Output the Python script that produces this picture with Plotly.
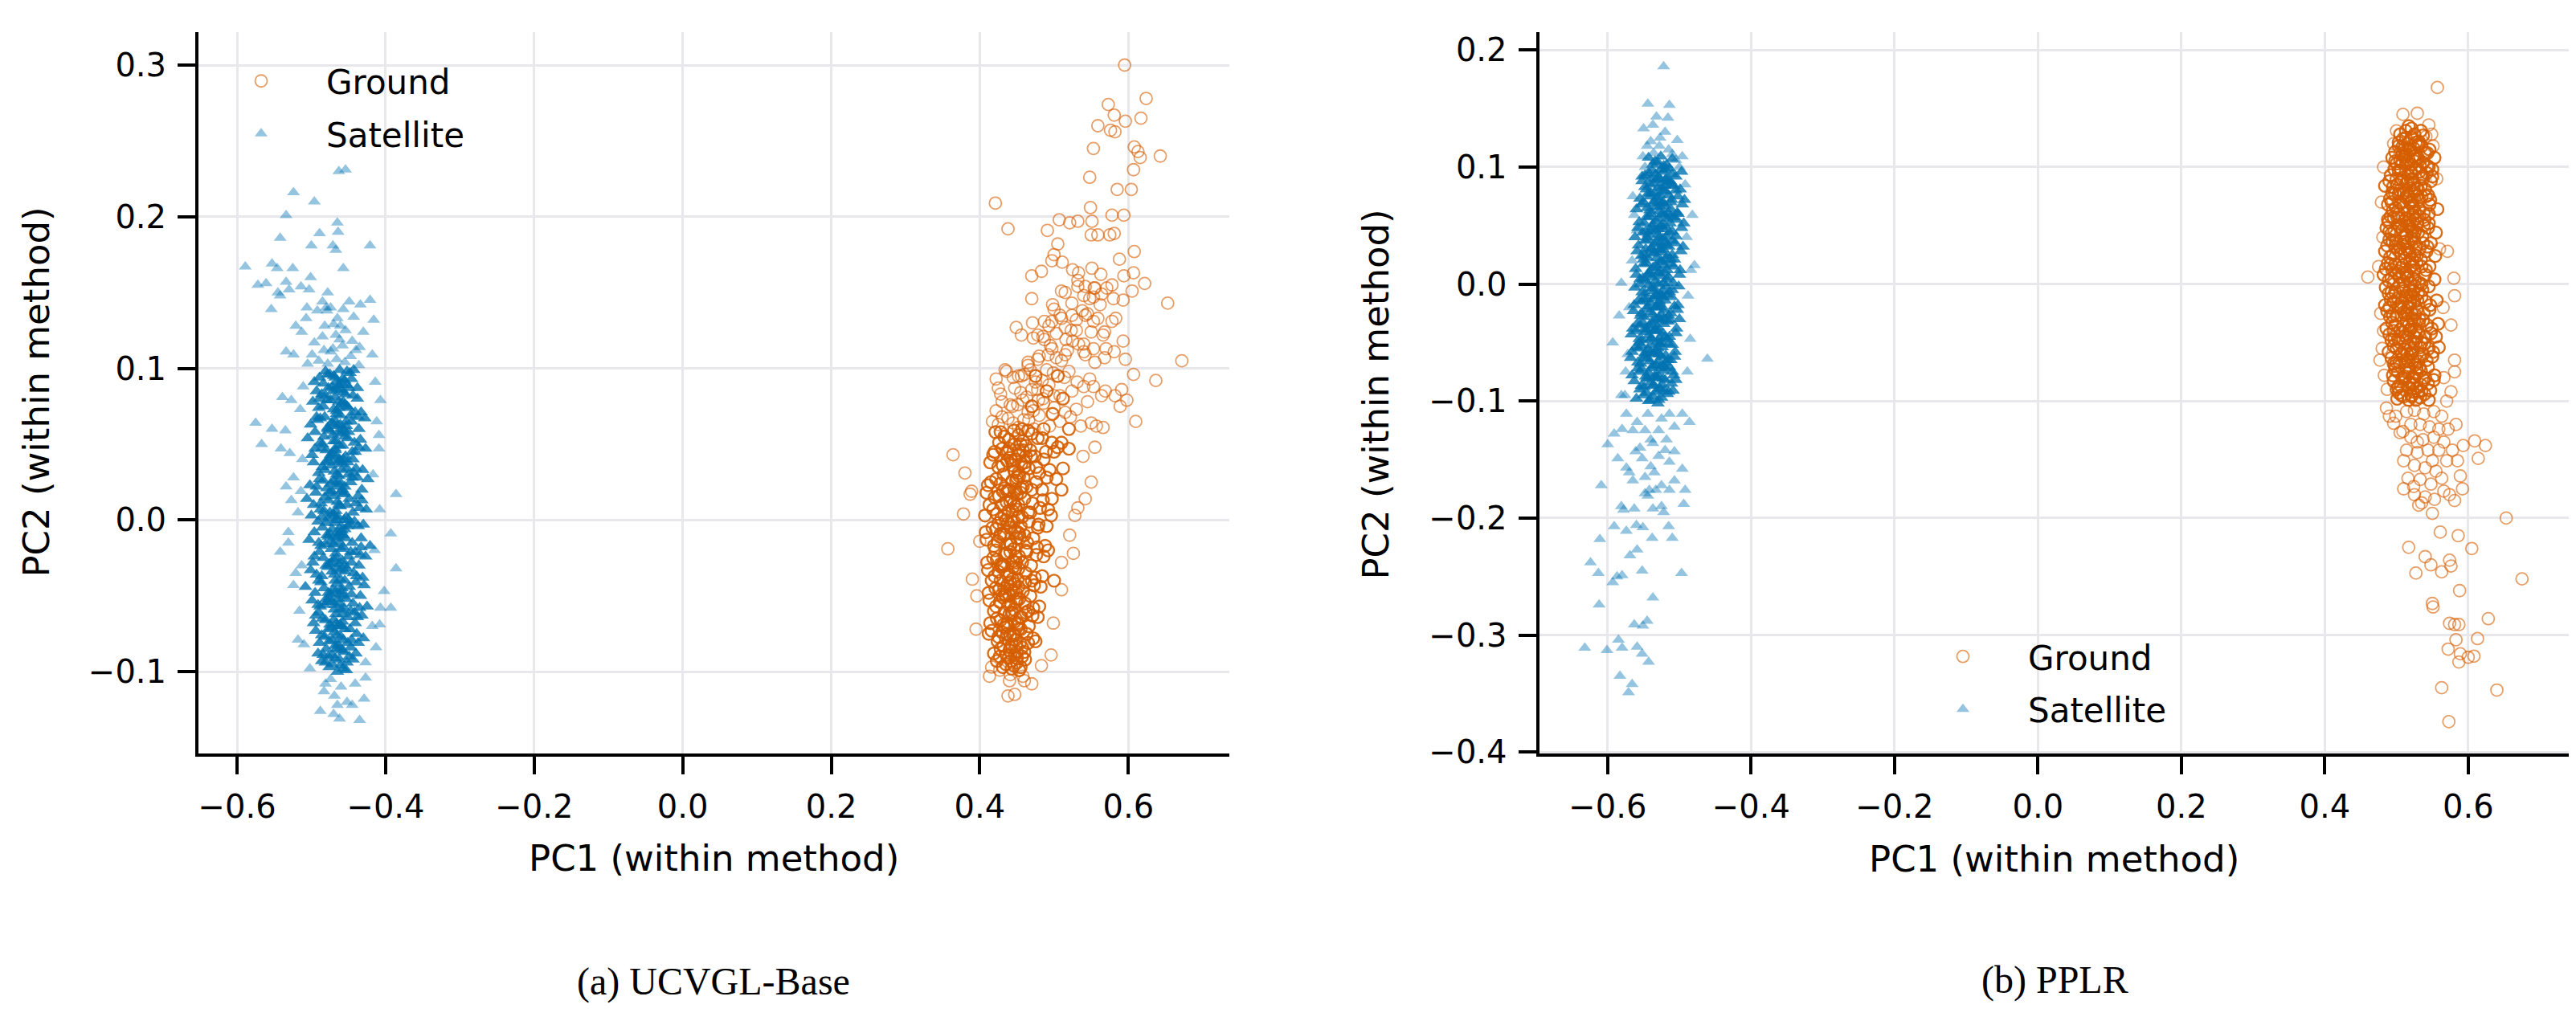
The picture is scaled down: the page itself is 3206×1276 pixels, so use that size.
import plotly.graph_objects as go

# ---------------- tick labels ----------------
x_ticks = [-0.6, -0.4, -0.2, 0.0, 0.2, 0.4, 0.6]
x_ticktext = ["\u22120.6", "\u22120.4", "\u22120.2", "0.0", "0.2", "0.4", "0.6"]
ya_ticks = [-0.1, 0.0, 0.1, 0.2, 0.3]
ya_ticktext = ["\u22120.1", "0.0", "0.1", "0.2", "0.3"]
yb_ticks = [-0.4, -0.3, -0.2, -0.1, 0.0, 0.1, 0.2]
yb_ticktext = ["\u22120.4", "\u22120.3", "\u22120.2", "\u22120.1", "0.0", "0.1", "0.2"]

series_names = ["Ground", "Satellite"]
panel_captions = ["(a) UCVGL-Base", "(b) PPLR"]
x_title = "PC1 (within method)"
y_title = "PC2 (within method)"

# ---------------- (a) UCVGL-Base : Satellite (PC1, PC2), dense core ----------------
sat_a_core = [
(-.481,.098),(-.470,.095),(-.462,.099),(-.455,.092),(-.448,.097),(-.489,.094),(-.466,.091),(-.458,.093),(-.475,.096),(-.443,.099),(-.496,.091),(-.452,.098),(-.468,.094),
(-.486,.083),(-.477,.087),(-.468,.081),(-.460,.086),(-.452,.089),(-.444,.082),(-.493,.085),(-.472,.088),(-.457,.084),(-.438,.080),(-.465,.086),(-.481,.082),(-.449,.087),
(-.498,.078),(-.484,.075),(-.474,.079),(-.466,.072),(-.459,.077),(-.450,.074),(-.441,.071),(-.470,.073),(-.455,.076),(-.479,.079),(-.433,.071),(-.463,.078),(-.490,.074),
(-.501,.063),(-.488,.067),(-.478,.061),(-.469,.066),(-.461,.069),(-.453,.062),(-.446,.065),(-.437,.068),(-.473,.064),(-.458,.060),(-.492,.066),(-.465,.062),(-.428,.067),
(-.495,.058),(-.483,.055),(-.476,.059),(-.467,.052),(-.460,.057),(-.451,.054),(-.442,.051),(-.434,.053),(-.471,.056),(-.456,.059),(-.488,.051),(-.464,.058),(-.505,.054),
(-.499,.043),(-.486,.047),(-.475,.041),(-.468,.046),(-.462,.049),(-.454,.042),(-.445,.045),(-.436,.048),(-.472,.044),(-.457,.040),(-.480,.046),(-.466,.042),(-.427,.047),
(-.497,.038),(-.485,.035),(-.477,.039),(-.469,.032),(-.459,.037),(-.452,.034),(-.443,.031),(-.431,.033),(-.473,.036),(-.461,.039),(-.490,.031),(-.464,.038),(-.440,.034),
(-.502,.023),(-.489,.027),(-.479,.021),(-.470,.026),(-.463,.029),(-.455,.022),(-.447,.025),(-.438,.028),(-.474,.024),(-.458,.020),(-.484,.026),(-.466,.022),(-.424,.027),
(-.494,.018),(-.482,.015),(-.473,.019),(-.465,.012),(-.457,.017),(-.449,.014),(-.440,.011),(-.432,.013),(-.469,.016),(-.460,.019),(-.487,.011),(-.476,.018),(-.506,.014),
(-.500,.003),(-.488,.007),(-.478,.001),(-.467,.006),(-.461,.009),(-.453,.002),(-.444,.005),(-.435,.008),(-.471,.004),(-.456,.000),(-.483,.006),(-.464,.002),(-.426,.007),
(-.496,-.008),(-.485,-.005),(-.475,-.009),(-.468,-.002),(-.459,-.007),(-.451,-.004),(-.442,-.001),(-.430,-.003),(-.472,-.006),(-.462,-.009),(-.491,-.001),(-.465,-.008),(-.437,-.004),
(-.503,-.013),(-.487,-.017),(-.477,-.011),(-.470,-.016),(-.460,-.019),(-.454,-.012),(-.445,-.015),(-.433,-.018),(-.474,-.014),(-.457,-.010),(-.481,-.016),(-.466,-.012),(-.421,-.017),
(-.498,-.028),(-.484,-.025),(-.476,-.029),(-.467,-.022),(-.458,-.027),(-.450,-.024),(-.441,-.021),(-.434,-.023),(-.470,-.026),(-.463,-.029),(-.489,-.021),(-.473,-.028),(-.427,-.024),
(-.501,-.033),(-.486,-.037),(-.478,-.031),(-.469,-.036),(-.461,-.039),(-.452,-.032),(-.443,-.035),(-.431,-.038),(-.472,-.034),(-.456,-.030),(-.493,-.036),(-.465,-.032),(-.439,-.037),
(-.495,-.048),(-.483,-.045),(-.474,-.049),(-.466,-.042),(-.459,-.047),(-.449,-.044),(-.440,-.041),(-.429,-.043),(-.471,-.046),(-.462,-.049),(-.487,-.041),(-.477,-.048),(-.508,-.044),
(-.499,-.053),(-.488,-.057),(-.476,-.051),(-.468,-.056),(-.460,-.059),(-.453,-.052),(-.444,-.055),(-.435,-.058),(-.473,-.054),(-.457,-.050),(-.482,-.056),(-.464,-.052),(-.425,-.057),
(-.497,-.068),(-.485,-.065),(-.475,-.069),(-.467,-.062),(-.458,-.067),(-.451,-.064),(-.442,-.061),(-.432,-.063),(-.470,-.066),(-.461,-.069),(-.490,-.061),(-.466,-.068),(-.438,-.064),
(-.494,-.073),(-.482,-.077),(-.473,-.071),(-.465,-.076),(-.457,-.079),(-.448,-.072),(-.439,-.075),(-.430,-.078),(-.469,-.074),(-.460,-.070),(-.486,-.076),(-.477,-.072),
(-.491,-.088),(-.480,-.085),(-.472,-.089),(-.464,-.082),(-.456,-.087),(-.447,-.084),(-.437,-.081),(-.468,-.083),(-.459,-.086),(-.484,-.089),(-.451,-.081),
(-.486,-.093),(-.476,-.097),(-.468,-.091),(-.461,-.096),(-.453,-.099),(-.444,-.092),(-.472,-.095),(-.457,-.098),(-.481,-.094),(-.449,-.090),
(-.463,.089),(-.457,.078),(-.466,.070),(-.461,.063),(-.455,.055),(-.468,.047),(-.462,.040),(-.459,.033),(-.465,.025),(-.456,.018),(-.463,.010),(-.469,.003),
(-.460,-.004),(-.464,-.011),(-.457,-.018),(-.466,-.025),(-.461,-.033),(-.455,-.040),(-.467,-.047),(-.462,-.055),(-.458,-.062),(-.464,-.070),(-.460,-.077),
(-.466,-.085),(-.462,-.092),(-.478,.060),(-.450,.030),(-.479,-.010),(-.447,-.060),(-.476,-.080),(-.452,.075),(-.481,.038),(-.446,-.028),(-.480,-.052),(-.450,.000),
(-.478,.096),(-.459,.090),(-.446,.093),(-.471,.085),(-.454,.083),(-.489,.080),(-.463,.074),(-.447,.069),(-.482,.068),(-.470,.063),(-.450,.058),(-.485,.050),
(-.458,.049),(-.441,.045),(-.474,.043),(-.451,.038),(-.482,.033),(-.466,.030),(-.445,.028),(-.493,.022),(-.460,.024),(-.477,.013),(-.452,.010),(-.437,.016),
(-.486,.002),(-.467,.000),(-.448,-.003),(-.480,-.002),(-.455,-.006),(-.473,-.019),(-.447,-.021),(-.490,-.015),(-.462,-.015),(-.480,-.030),(-.455,-.034),(-.436,-.030),
(-.490,-.040),(-.468,-.040),(-.446,-.049),(-.478,-.054),(-.456,-.058),(-.491,-.056),(-.469,-.059),(-.441,-.068),(-.481,-.066),(-.455,-.072),(-.472,-.079),(-.446,-.079),
(-.489,-.081),(-.462,-.085),(-.477,-.090),(-.452,-.094),(-.465,-.100),(-.440,-.088),(-.494,-.063),(-.496,-.024),(-.497,.010),(-.495,.047),(-.493,.068),(-.436,.060),
(-.432,.020),(-.433,-.012),(-.434,-.050),(-.438,.087),(-.475,.005),(-.459,-.045),(-.470,.052),(-.453,.065),(-.484,.090),(-.444,.040),
]
# sparser points around the core
sat_a_spread = [
(-.463,.230),(-.454,.231),(-.524,.216),(-.496,.210),(-.534,.201),(-.465,.196),(-.464,.190),(-.489,.189),(-.542,.186),(-.500,.181),(-.471,.181),(-.467,.178),
(-.421,.181),(-.589,.167),(-.553,.169),(-.546,.166),(-.525,.166),(-.457,.166),(-.572,.155),(-.561,.156),(-.534,.157),(-.501,.160),(-.542,.148),(-.545,.150),
(-.530,.152),(-.514,.154),(-.503,.152),(-.478,.150),(-.554,.139),(-.506,.140),(-.485,.144),(-.480,.140),(-.474,.140),(-.449,.144),(-.434,.142),(-.421,.145),
(-.507,.133),(-.492,.138),(-.479,.138),(-.465,.133),(-.457,.139),(-.443,.134),(-.416,.132),(-.521,.128),(-.513,.124),(-.482,.128),(-.470,.129),(-.461,.128),
(-.454,.125),(-.430,.124),(-.496,.117),(-.485,.121),(-.467,.122),(-.445,.118),(-.534,.111),(-.524,.109),(-.418,.109),(-.499,.109),(-.474,.111),(-.435,.114),
(-.490,.105),(-.478,.103),(-.466,.106),(-.455,.104),(-.447,.108),(-.436,.102),(-.471,.113),(-.458,.115),(-.483,.112),(-.505,.103),(-.440,.112),(-.462,.119),
(-.414,.091),(-.407,.079),(-.539,.081),(-.527,.079),(-.575,.064),(-.553,.060),(-.535,.059),(-.567,.050),(-.541,.047),(-.529,.044),(-.409,.056),(-.409,.047),
(-.524,.028),(-.534,.022),(-.514,.019),(-.527,.013),(-.386,.017),(-.408,.007),(-.393,-.009),(-.531,-.008),(-.542,-.021),(-.531,-.015),(-.386,-.032),(-.521,-.035),
(-.524,-.043),(-.402,-.047),(-.393,-.058),(-.407,-.058),(-.408,-.069),(-.518,-.079),(-.510,-.082),(-.413,-.084),(-.502,-.098),(-.483,-.113),(-.488,-.126),(-.470,-.128),
(-.462,-.131),(-.435,-.132),(-.429,-.118),(-.452,-.120),(-.445,-.122),(-.465,-.122),(-.469,-.116),(-.474,-.105),(-.427,-.104),(-.441,-.108),(-.481,-.108),(-.460,-.110),
(-.427,-.094),(-.515,.073),(-.512,.040),(-.518,.005),(-.513,-.030),(-.516,-.060),(-.511,.088),(-.417,.030),(-.415,-.020),(-.418,-.070),(-.412,.065),
]

# ---------------- (a) UCVGL-Base : Ground ----------------
gnd_a_core = [
(.421,.058),(.433,.055),(.446,.059),(.458,.052),(.470,.057),(.484,.054),(.497,.051),(.439,.053),(.452,.056),(.465,.059),(.510,.051),(.428,.058),(.478,.054),
(.418,.043),(.430,.047),(.441,.041),(.453,.046),(.462,.049),(.474,.042),(.489,.045),(.505,.048),(.436,.044),(.448,.040),(.458,.046),(.469,.042),(.520,.047),
(.414,.038),(.425,.035),(.437,.039),(.447,.032),(.456,.037),(.466,.034),(.480,.031),(.494,.033),(.431,.036),(.443,.039),(.452,.031),(.461,.038),(.512,.034),
(.411,.023),(.422,.027),(.434,.021),(.444,.026),(.453,.029),(.463,.022),(.476,.025),(.490,.028),(.428,.024),(.439,.020),(.449,.026),(.458,.022),(.503,.027),
(.409,.018),(.420,.015),(.431,.019),(.441,.012),(.450,.017),(.460,.014),(.471,.011),(.485,.013),(.426,.016),(.437,.019),(.446,.011),(.455,.018),(.497,.014),
(.407,.003),(.418,.007),(.429,.001),(.439,.006),(.448,.009),(.457,.002),(.468,.005),(.481,.008),(.423,.004),(.435,.000),(.444,.006),(.452,.002),(.492,.007),
(.408,-.008),(.417,-.005),(.428,-.009),(.438,-.002),(.447,-.007),(.455,-.004),(.466,-.001),(.479,-.003),(.422,-.006),(.433,-.009),(.443,-.001),(.451,-.008),(.490,-.004),
(.409,-.013),(.419,-.017),(.427,-.011),(.437,-.016),(.446,-.019),(.454,-.012),(.464,-.015),(.477,-.018),(.424,-.014),(.432,-.010),(.442,-.016),(.450,-.012),(.488,-.017),
(.410,-.028),(.418,-.025),(.428,-.029),(.436,-.022),(.445,-.027),(.453,-.024),(.463,-.021),(.476,-.023),(.423,-.026),(.431,-.029),(.441,-.021),(.449,-.028),(.486,-.024),
(.411,-.033),(.420,-.037),(.429,-.031),(.437,-.036),(.444,-.039),(.452,-.032),(.462,-.035),(.474,-.038),(.425,-.034),(.433,-.030),(.440,-.036),(.448,-.032),(.484,-.037),
(.412,-.048),(.421,-.045),(.430,-.049),(.438,-.042),(.445,-.047),(.452,-.044),(.461,-.041),(.473,-.043),(.426,-.046),(.434,-.049),(.441,-.041),(.449,-.048),(.482,-.044),
(.413,-.053),(.422,-.057),(.431,-.051),(.439,-.056),(.446,-.059),(.453,-.052),(.461,-.055),(.472,-.058),(.427,-.054),(.435,-.050),(.442,-.056),(.450,-.052),(.480,-.057),
(.414,-.068),(.423,-.065),(.432,-.069),(.440,-.062),(.447,-.067),(.454,-.064),(.462,-.061),(.471,-.063),(.428,-.066),(.436,-.069),(.443,-.061),(.451,-.068),(.478,-.064),
(.416,-.073),(.425,-.077),(.434,-.071),(.441,-.076),(.448,-.079),(.455,-.072),(.463,-.075),(.472,-.078),(.430,-.074),(.438,-.070),(.445,-.076),(.452,-.072),
(.419,-.088),(.428,-.085),(.436,-.089),(.443,-.082),(.450,-.087),(.457,-.084),(.465,-.081),(.432,-.083),(.440,-.086),(.447,-.089),(.454,-.081),
(.423,-.093),(.431,-.097),(.439,-.091),(.446,-.096),(.453,-.099),(.461,-.092),(.435,-.095),(.443,-.098),(.450,-.094),(.457,-.090),
(.447,.050),(.452,.043),(.444,.036),(.450,.028),(.455,.021),(.443,.014),(.449,.007),(.446,-.001),(.453,-.009),(.441,-.016),(.448,-.024),(.445,-.031),(.451,-.039),
(.442,-.046),(.449,-.054),(.444,-.061),(.452,-.069),(.447,-.076),(.441,-.084),(.450,-.091),(.430,.010),(.462,-.020),(.433,-.045),(.460,.035),(.437,-.075),(.465,-.060),
(.426,.051),(.440,.047),(.455,.050),(.468,.046),(.486,.040),(.432,.030),(.459,.028),(.470,.020),(.415,.025),(.436,.012),(.452,.010),(.465,.005),
(.413,.010),(.425,-.002),(.441,-.005),(.460,-.010),(.472,-.012),(.421,-.020),(.434,-.022),(.457,-.028),(.469,-.030),(.416,-.040),(.428,-.040),(.447,-.042),
(.458,-.047),(.468,-.050),(.419,-.060),(.433,-.061),(.456,-.064),(.466,-.070),(.424,-.080),(.435,-.078),(.449,-.083),(.460,-.087),(.427,-.090),(.442,-.093),
(.438,.045),(.462,.042),(.476,.035),(.484,.020),(.478,-.005),(.470,-.040),(.420,.045),(.412,-.075),(.475,-.080),(.455,-.097),(.433,.003),(.440,-.050),
(.447,.020),(.430,-.030),(.457,.060),(.470,.075),(.486,.060),(.498,.070),(.512,.080),(.490,.085),(.475,.095),(.505,.095),(.520,.060),(.500,.045),
(.510,.020),(.496,.003),(.492,-.020),(.500,-.040),
]
gnd_a_spread = [
(.425,.063),(.438,.067),(.452,.061),(.466,.066),(.480,.069),(.494,.062),(.508,.065),(.522,.068),(.445,.064),(.473,.060),(.459,.066),(.536,.062),
(.430,.078),(.444,.075),(.458,.079),(.472,.072),(.486,.077),(.500,.074),(.515,.071),(.530,.073),(.451,.076),(.479,.079),(.465,.071),(.545,.078),
(.428,.083),(.447,.087),(.463,.081),(.478,.086),(.493,.089),(.508,.082),(.524,.085),(.540,.088),(.455,.084),(.485,.080),(.470,.086),(.500,.082),
(.436,.098),(.452,.095),(.468,.099),(.484,.092),(.499,.097),(.514,.094),(.531,.091),(.548,.093),(.460,.096),(.490,.099),(.475,.091),(.520,.098),
(.465,.102),(.480,.108),(.495,.115),(.510,.105),(.525,.118),(.540,.111),(.555,.104),(.570,.113),(.487,.119),(.503,.107),(.518,.112),(.533,.116),
(.478,.122),(.493,.128),(.508,.135),(.523,.125),(.538,.138),(.553,.131),(.568,.124),(.583,.133),(.500,.139),(.515,.127),(.530,.132),(.545,.136),
(.498,.142),(.515,.150),(.532,.158),(.548,.146),(.563,.162),(.578,.155),(.525,.165),(.540,.148),(.555,.153),
(.595,.300),(.624,.278),(.573,.274),(.581,.267),(.596,.263),(.617,.265),(.559,.260),(.576,.257),(.582,.256),(.553,.245),(.608,.246),(.613,.243),
(.616,.239),(.643,.240),(.607,.231),(.548,.226),(.585,.218),(.604,.218),(.421,.209),(.549,.206),(.578,.201),(.594,.201),(.438,.192),(.491,.191),
(.507,.198),(.521,.196),(.532,.197),(.551,.197),(.550,.188),(.559,.188),(.575,.188),(.581,.189),(.505,.182),(.500,.175),(.497,.171),(.511,.170),
(.588,.172),(.608,.177),(.470,.161),(.483,.164),(.533,.163),(.551,.166),(.594,.161),(.607,.163),(.622,.156),(.470,.146),(.510,.151),(.532,.154),
(.542,.154),(.554,.153),(.564,.149),(.571,.153),(.605,.151),(.653,.143),(.524,.143),(.553,.147),(.580,.146),(.593,.145),(.562,.142),(.449,.127),
(.456,.122),(.471,.130),(.487,.131),(.497,.131),(.510,.133),(.524,.135),(.542,.135),(.559,.133),(.578,.131),(.530,.125),(.550,.124),(.566,.122),
(.472,.120),(.485,.121),(.503,.123),(.516,.119),(.540,.116),(.593,.118),(.581,.111),(.553,.113),(.542,.109),(.497,.113),(.492,.109),(.465,.104),
(.478,.106),(.515,.109),(.568,.107),(.672,.105),(.596,.106),(.637,.092),(.607,.096),(.610,.065),(.589,.075),(.598,.079),(.591,.086),(.582,.082),
(.564,.082),(.569,.085),(.553,.088),(.566,.061),(.557,.062),(.550,.064),(.555,.048),(.539,.042),(.550,.025),(.542,.014),(.532,.008),(.528,.003),
(.521,-.010),(.526,-.022),(.510,-.028),(.510,-.046),(.499,-.068),(.496,-.089),(.364,.043),(.380,.031),(.389,.019),(.387,.017),(.378,.004),(.357,-.019),
(.390,-.039),(.395,-.072),(.400,-.014),(.396,-.050),(.413,-.103),(.416,-.097),(.438,-.116),(.447,-.115),(.440,-.106),(.460,-.106),(.470,-.108),(.458,-.103),
(.441,-.102),(.427,-.099),(.483,-.096),(.422,.093),(.425,.087),(.434,.099),(.445,.094),(.456,.095),(.417,.065),(.430,.068),(.422,.072),(.441,.076),
]

# ---------------- (b) PPLR : Satellite ----------------
sat_b_core = [
(-.543,.108),(-.534,.105),(-.526,.109),(-.518,.102),(-.510,.107),(-.530,.104),(-.522,.101),
(-.548,.093),(-.538,.097),(-.530,.091),(-.522,.096),(-.514,.099),(-.505,.092),(-.543,.095),(-.526,.098),(-.533,.094),(-.518,.090),(-.497,.096),(-.552,.092),
(-.552,.088),(-.541,.085),(-.532,.089),(-.525,.082),(-.517,.087),(-.508,.084),(-.546,.081),(-.529,.083),(-.536,.086),(-.520,.089),(-.499,.081),(-.513,.088),
(-.555,.073),(-.544,.077),(-.535,.071),(-.527,.076),(-.519,.079),(-.511,.072),(-.502,.075),(-.540,.078),(-.531,.074),(-.523,.070),(-.515,.076),(-.493,.072),
(-.553,.068),(-.545,.065),(-.536,.069),(-.528,.062),(-.520,.067),(-.512,.064),(-.503,.061),(-.541,.063),(-.532,.066),(-.524,.069),(-.516,.061),(-.496,.068),(-.560,.064),
(-.556,.053),(-.546,.057),(-.537,.051),(-.529,.056),(-.521,.059),(-.513,.052),(-.504,.055),(-.542,.058),(-.533,.054),(-.525,.050),(-.517,.056),(-.494,.052),(-.508,.057),
(-.558,.048),(-.547,.045),(-.538,.049),(-.530,.042),(-.522,.047),(-.514,.044),(-.505,.041),(-.543,.043),(-.534,.046),(-.526,.049),(-.518,.041),(-.497,.048),(-.551,.044),
(-.557,.033),(-.548,.037),(-.539,.031),(-.531,.036),(-.523,.039),(-.515,.032),(-.506,.035),(-.544,.038),(-.535,.034),(-.527,.030),(-.519,.036),(-.495,.032),(-.510,.037),
(-.559,.028),(-.549,.025),(-.540,.029),(-.532,.022),(-.524,.027),(-.516,.024),(-.507,.021),(-.545,.023),(-.536,.026),(-.528,.029),(-.520,.021),(-.498,.028),(-.553,.024),
(-.561,.013),(-.550,.017),(-.541,.011),(-.533,.016),(-.525,.019),(-.517,.012),(-.508,.015),(-.546,.018),(-.537,.014),(-.529,.010),(-.521,.016),(-.499,.012),(-.512,.017),
(-.560,.008),(-.551,.005),(-.542,.009),(-.534,.002),(-.526,.007),(-.518,.004),(-.509,.001),(-.547,.003),(-.538,.006),(-.530,.009),(-.522,.001),(-.500,.008),(-.555,.004),
(-.562,-.003),(-.552,-.007),(-.543,-.001),(-.535,-.006),(-.527,-.009),(-.519,-.002),(-.510,-.005),(-.548,-.008),(-.539,-.004),(-.531,-.010),(-.523,-.006),(-.501,-.002),(-.514,-.007),
(-.563,-.018),(-.553,-.015),(-.544,-.019),(-.536,-.012),(-.528,-.017),(-.520,-.014),(-.511,-.011),(-.549,-.013),(-.540,-.016),(-.532,-.019),(-.524,-.011),(-.502,-.018),(-.557,-.014),
(-.564,-.023),(-.554,-.027),(-.545,-.021),(-.537,-.026),(-.529,-.029),(-.521,-.022),(-.512,-.025),(-.550,-.028),(-.541,-.024),(-.533,-.020),(-.525,-.026),(-.503,-.022),(-.515,-.027),
(-.565,-.038),(-.555,-.035),(-.546,-.039),(-.538,-.032),(-.530,-.037),(-.522,-.034),(-.513,-.031),(-.551,-.033),(-.542,-.036),(-.534,-.039),(-.526,-.031),(-.504,-.038),(-.559,-.034),
(-.567,-.043),(-.556,-.047),(-.547,-.041),(-.539,-.046),(-.531,-.049),(-.523,-.042),(-.514,-.045),(-.552,-.048),(-.543,-.044),(-.535,-.040),(-.527,-.046),(-.505,-.042),(-.517,-.047),
(-.566,-.058),(-.557,-.055),(-.548,-.059),(-.540,-.052),(-.532,-.057),(-.524,-.054),(-.515,-.051),(-.553,-.053),(-.544,-.056),(-.536,-.059),(-.528,-.051),(-.506,-.058),(-.561,-.054),
(-.568,-.063),(-.558,-.067),(-.549,-.061),(-.541,-.066),(-.533,-.069),(-.525,-.062),(-.516,-.065),(-.554,-.068),(-.545,-.064),(-.537,-.060),(-.529,-.066),(-.507,-.062),(-.519,-.067),
(-.566,-.078),(-.556,-.075),(-.547,-.079),(-.539,-.072),(-.531,-.077),(-.523,-.074),(-.514,-.071),(-.552,-.073),(-.543,-.076),(-.535,-.079),(-.527,-.071),(-.508,-.078),
(-.563,-.083),(-.553,-.087),(-.544,-.081),(-.536,-.086),(-.528,-.089),(-.520,-.082),(-.511,-.085),(-.549,-.088),(-.540,-.084),(-.532,-.080),(-.524,-.086),(-.505,-.082),
(-.560,-.098),(-.550,-.095),(-.541,-.099),(-.533,-.092),(-.525,-.097),(-.517,-.094),(-.509,-.091),(-.546,-.093),(-.537,-.096),(-.529,-.099),(-.521,-.091),
(-.527,.090),(-.522,.080),(-.529,.070),(-.524,.060),(-.520,.050),(-.528,.040),(-.523,.030),(-.526,.020),(-.521,.010),(-.529,.000),(-.524,-.010),(-.527,-.020),
(-.522,-.030),(-.530,-.040),(-.525,-.050),(-.528,-.060),(-.523,-.070),(-.531,-.080),(-.526,-.090),(-.540,.045),(-.510,.025),(-.538,-.035),(-.512,-.065),(-.541,.075),(-.511,.085),
(-.537,.102),(-.520,.098),(-.540,.090),(-.510,.094),(-.548,.083),(-.520,.084),(-.534,.078),(-.505,.080),(-.550,.070),(-.527,.066),(-.540,.060),(-.512,.058),
(-.549,.052),(-.530,.047),(-.510,.045),(-.545,.040),(-.518,.033),(-.535,.027),(-.550,.021),(-.512,.021),(-.530,.014),(-.544,.008),(-.515,.006),(-.555,.000),
(-.536,-.003),(-.517,-.009),(-.546,-.013),(-.528,-.015),(-.507,-.019),(-.553,-.025),(-.533,-.030),(-.516,-.032),(-.548,-.038),(-.520,-.045),(-.540,-.047),(-.556,-.050),
(-.510,-.052),(-.530,-.055),(-.549,-.063),(-.519,-.061),(-.537,-.070),(-.558,-.072),(-.510,-.075),(-.545,-.080),(-.523,-.081),(-.555,-.090),(-.537,-.087),(-.515,-.092),
(-.543,-.100),(-.530,-.102),(-.560,-.040),(-.562,.040),(-.500,-.030),(-.502,.060),(-.526,.035),(-.534,-.010),(-.519,-.072),(-.540,-.058),(-.512,.070),(-.547,.030),
]
sat_b_spread = [
(-.522,.186),(-.544,.154),(-.514,.153),(-.516,.142),(-.532,.143),(-.550,.133),(-.503,.123),(-.496,.109),(-.537,.136),(-.520,.130),(-.527,.125),(-.540,.122),
(-.551,.109),(-.510,.111),(-.536,.112),(-.515,.115),(-.545,.118),(-.505,.106),(-.528,.118),(-.548,.100),(-.500,.100),
(-.482,.059),(-.479,.016),(-.484,.012),(-.563,.059),(-.559,.046),(-.581,.001),(-.584,-.027),(-.593,-.050),(-.461,-.064),(-.485,-.047),(-.486,-.118),
(-.566,.020),(-.570,-.020),(-.572,-.060),(-.575,-.075),(-.565,.075),(-.490,.040),(-.488,-.010),(-.489,-.075),(-.492,.085),
(-.496,-.158),(-.492,-.176),(-.494,-.188),(-.581,-.095),(-.576,-.095),(-.591,-.128),(-.600,-.137),(-.586,-.149),(-.609,-.172),(-.574,-.157),(-.581,-.190),
(-.563,-.192),(-.542,-.176),(-.525,-.190),(-.591,-.207),(-.611,-.218),(-.574,-.211),(-.560,-.206),(-.551,-.208),(-.538,-.217),(-.515,-.207),(-.510,-.217),
(-.624,-.238),(-.613,-.247),(-.569,-.232),(-.559,-.227),(-.552,-.245),(-.593,-.255),(-.587,-.250),(-.580,-.249),(-.497,-.247),(-.537,-.268),(-.612,-.274),
(-.563,-.291),(-.551,-.292),(-.545,-.288),(-.632,-.311),(-.601,-.313),(-.585,-.304),(-.580,-.311),(-.559,-.310),(-.552,-.316),(-.543,-.323),(-.583,-.335),
(-.566,-.342),(-.571,-.349),
(-.574,-.111),(-.580,-.124),(-.565,-.125),(-.555,-.140),(-.540,-.133),(-.529,-.125),(-.518,-.133),(-.507,-.122),(-.514,-.152),(-.529,-.147),(-.540,-.156),
(-.552,-.149),(-.570,-.161),(-.565,-.168),(-.548,-.165),(-.535,-.161),(-.525,-.172),(-.514,-.176),(-.507,-.168),(-.548,-.179),(-.537,-.192),(-.544,-.181),
(-.522,-.195),(-.578,-.193),(-.561,-.143),(-.525,-.115),(-.544,-.111),(-.559,-.118),(-.514,-.111),(-.496,-.111),(-.537,-.136),(-.507,-.143),(-.548,-.125),
(-.520,-.142),(-.533,-.176),
]

# ---------------- (b) PPLR : Ground ----------------
gnd_b_core = [
(.505,.128),(.513,.125),(.521,.133),(.531,.122),(.537,.127),(.509,.124),(.527,.121),(.534,.131),(.517,.135),
(.498,.113),(.508,.117),(.514,.111),(.524,.116),(.530,.119),(.540,.112),(.546,.115),(.503,.118),(.519,.114),(.527,.110),(.511,.116),(.543,.112),
(.494,.108),(.505,.105),(.511,.109),(.521,.102),(.527,.107),(.537,.104),(.543,.101),(.500,.103),(.517,.106),(.523,.109),(.533,.101),(.553,.108),(.508,.104),
(.492,.093),(.503,.097),(.510,.091),(.520,.096),(.526,.099),(.536,.092),(.542,.095),(.497,.098),(.516,.094),(.522,.090),(.532,.096),(.550,.092),(.506,.097),
(.490,.088),(.501,.085),(.508,.089),(.518,.082),(.524,.087),(.534,.084),(.540,.081),(.495,.083),(.514,.086),(.520,.089),(.530,.081),(.548,.088),(.484,.084),
(.491,.073),(.498,.077),(.509,.071),(.515,.076),(.525,.079),(.531,.072),(.541,.075),(.494,.078),(.513,.074),(.519,.070),(.529,.076),(.547,.072),(.503,.077),
(.488,.068),(.499,.065),(.506,.069),(.516,.062),(.522,.067),(.532,.064),(.538,.061),(.495,.063),(.510,.066),(.520,.069),(.526,.061),(.546,.068),(.557,.064),
(.489,.053),(.496,.057),(.507,.051),(.513,.056),(.523,.059),(.529,.052),(.539,.055),(.492,.058),(.511,.054),(.517,.050),(.527,.056),(.545,.052),(.501,.057),
(.486,.048),(.497,.045),(.504,.049),(.514,.042),(.520,.047),(.530,.044),(.536,.041),(.493,.043),(.508,.046),(.518,.049),(.524,.041),(.544,.048),(.555,.044),
(.487,.033),(.494,.037),(.505,.031),(.511,.036),(.521,.039),(.527,.032),(.537,.035),(.490,.038),(.509,.034),(.515,.030),(.525,.036),(.543,.032),(.499,.037),
(.484,.028),(.495,.025),(.502,.029),(.512,.022),(.518,.027),(.528,.024),(.534,.021),(.491,.023),(.506,.026),(.516,.029),(.522,.021),(.542,.028),(.554,.024),
(.485,.013),(.492,.017),(.503,.011),(.509,.016),(.519,.019),(.525,.012),(.535,.015),(.488,.018),(.507,.014),(.513,.010),(.523,.016),(.541,.012),(.498,.017),
(.482,.008),(.493,.005),(.500,.009),(.510,.002),(.516,.007),(.526,.004),(.532,.001),(.489,.003),(.504,.006),(.514,.009),(.520,.001),(.540,.008),(.553,.004),
(.485,-.003),(.493,-.007),(.504,-.001),(.510,-.006),(.520,-.009),(.526,-.002),(.536,-.005),(.489,-.008),(.508,-.004),(.514,-.010),(.524,-.006),(.545,-.002),(.498,-.007),
(.484,-.018),(.496,-.015),(.503,-.019),(.513,-.012),(.519,-.017),(.529,-.014),(.535,-.011),(.492,-.013),(.507,-.016),(.517,-.019),(.523,-.011),(.547,-.018),(.556,-.014),
(.487,-.023),(.495,-.027),(.506,-.021),(.512,-.026),(.522,-.029),(.528,-.022),(.538,-.025),(.491,-.028),(.510,-.024),(.516,-.020),(.526,-.026),(.546,-.022),(.500,-.027),
(.486,-.038),(.498,-.035),(.505,-.039),(.515,-.032),(.521,-.037),(.531,-.034),(.537,-.031),(.494,-.033),(.509,-.036),(.519,-.039),(.525,-.031),(.549,-.038),(.558,-.034),
(.490,-.043),(.497,-.047),(.508,-.041),(.514,-.046),(.524,-.049),(.530,-.042),(.540,-.045),(.493,-.048),(.512,-.044),(.518,-.040),(.528,-.046),(.548,-.042),(.502,-.047),
(.489,-.058),(.500,-.055),(.507,-.059),(.517,-.052),(.523,-.057),(.533,-.054),(.539,-.051),(.496,-.053),(.511,-.056),(.521,-.059),(.527,-.051),(.551,-.058),(.559,-.054),
(.493,-.063),(.500,-.067),(.510,-.061),(.516,-.066),(.526,-.069),(.532,-.062),(.542,-.065),(.496,-.068),(.514,-.064),(.520,-.060),(.530,-.066),(.550,-.062),(.504,-.067),
(.495,-.078),(.502,-.075),(.512,-.079),(.518,-.072),(.528,-.077),(.534,-.074),(.544,-.071),(.498,-.073),(.516,-.076),(.522,-.079),(.532,-.071),(.553,-.078),
(.496,-.083),(.506,-.087),(.512,-.081),(.522,-.086),(.528,-.089),(.538,-.082),(.544,-.085),(.502,-.088),(.518,-.084),(.524,-.080),(.534,-.086),(.552,-.082),
(.501,-.098),(.507,-.095),(.517,-.099),(.523,-.092),(.533,-.097),(.539,-.094),(.547,-.091),(.503,-.093),(.521,-.096),(.527,-.099),(.535,-.091),
(.521,.125),(.518,.115),(.525,.105),(.520,.095),(.523,.085),(.517,.075),(.524,.065),(.519,.055),(.522,.045),(.516,.035),(.525,.025),(.520,.015),(.523,.005),
(.518,-.005),(.524,-.015),(.521,-.025),(.517,-.035),(.525,-.045),(.520,-.055),(.523,-.065),(.518,-.075),(.524,-.085),(.521,-.095),(.505,.080),(.538,.050),
(.506,-.020),(.537,-.060),(.508,.110),(.535,.000),
(.513,.131),(.525,.128),(.503,.121),(.535,.118),(.516,.120),(.498,.105),(.513,.102),(.530,.108),(.545,.100),(.500,.090),(.516,.088),(.537,.090),
(.510,.078),(.528,.082),(.544,.076),(.493,.070),(.522,.072),(.503,.060),(.532,.058),(.514,.050),(.545,.060),(.490,.045),(.526,.045),(.498,.032),
(.532,.030),(.512,.027),(.548,.035),(.494,.012),(.528,.018),(.515,.005),(.546,.015),(.496,.000),(.530,-.008),(.502,-.012),(.541,-.015),(.515,-.025),
(.532,-.030),(.496,-.040),(.527,-.040),(.543,-.035),(.505,-.050),(.535,-.050),(.515,-.060),(.545,-.055),(.498,-.070),(.528,-.072),(.508,-.080),(.540,-.080),
(.517,-.088),(.530,-.092),(.510,-.096),(.545,-.099),(.490,-.020),(.488,.055),(.550,.098),(.555,-.045),(.532,.120),(.500,-.090),(.512,.040),(.535,.075),
]
gnd_b_spread = [
(.557,.168),(.509,.145),(.529,.146),(.545,.136),(.549,.128),(.505,.112),(.496,.120),(.551,.118),(.500,.131),(.541,.126),
(.460,.006),(.475,.015),(.571,.028),(.580,.005),(.581,-.010),(.576,-.035),(.482,-.040),(.477,-.065),(.581,-.065),(.581,-.075),(.576,-.092),
(.483,-.078),(.487,-.090),(.480,-.055),(.478,-.025),(.481,.040),(.479,.070),(.556,.090),(.560,.030),(.565,-.020),(.566,-.080),(.570,-.100),(.482,.100),
(.486,-.106),(.490,-.113),(.496,-.119),(.505,-.127),(.583,-.120),(.593,-.138),(.609,-.134),(.624,-.138),(.614,-.149),(.510,-.175),(.524,-.173),
(.592,-.175),(.581,-.185),(.535,-.187),(.550,-.196),(.653,-.200),(.561,-.212),(.586,-.215),(.605,-.226),(.517,-.225),(.540,-.233),(.548,-.240),
(.563,-.246),(.574,-.236),(.576,-.241),(.527,-.247),(.675,-.252),(.588,-.262),(.551,-.276),(.550,-.273),(.628,-.286),(.574,-.290),(.587,-.291),
(.581,-.291),(.583,-.304),(.613,-.303),(.572,-.312),(.589,-.316),(.587,-.323),(.608,-.318),(.600,-.319),(.563,-.345),(.640,-.347),(.573,-.374),
(.514,-.109),(.525,-.108),(.538,-.111),(.552,-.109),(.563,-.113),(.533,-.120),(.546,-.122),(.559,-.124),(.520,-.131),(.537,-.133),(.552,-.131),
(.566,-.135),(.514,-.142),(.529,-.144),(.544,-.142),(.559,-.142),(.570,-.151),(.510,-.151),(.525,-.155),(.540,-.157),(.555,-.160),(.516,-.166),
(.533,-.167),(.548,-.171),(.563,-.166),(.574,-.180),(.540,-.182),(.525,-.180),(.553,-.184),(.531,-.189),(.566,-.177),(.585,-.151),(.589,-.164),
(.578,-.142),(.520,-.120),(.509,-.126),(.572,-.124),(.499,-.113),(.529,-.135),(.550,-.151),
]

# ---------------- styling ----------------
GROUND_COLOR = "#D55E00"
SAT_COLOR = "#0173B2"
GRID_COLOR = "#E7E7EC"
W, H = 3206, 1276


def xs(pts):
    return [p[0] for p in pts]


def ys(pts):
    return [p[1] for p in pts]


# dense cores are drawn with stronger opacity so the many overlapping markers read as a solid mass
ground_marker = dict(symbol="circle-open", size=15, color=GROUND_COLOR, opacity=0.6,
                     line=dict(width=1.8, color=GROUND_COLOR))
ground_core_marker = dict(symbol="circle-open", size=15, color=GROUND_COLOR, opacity=0.9,
                          line=dict(width=2.4, color=GROUND_COLOR))
sat_marker = dict(symbol="triangle-up", size=14, color=SAT_COLOR, opacity=0.42,
                  line=dict(width=0))
sat_core_marker = dict(symbol="triangle-up", size=15, color=SAT_COLOR, opacity=0.8,
                       line=dict(width=0))

fig = go.Figure()
panels = [
    ("x", "y", "legend", gnd_a_core, gnd_a_spread, sat_a_core, sat_a_spread, "a"),
    ("x2", "y2", "legend2", gnd_b_core, gnd_b_spread, sat_b_core, sat_b_spread, "b"),
]
for xa, ya, leg, g_core, g_spread, s_core, s_spread, tag in panels:
    fig.add_trace(go.Scatter(x=xs(g_spread), y=ys(g_spread), mode="markers", name=series_names[0],
                             marker=ground_marker, xaxis=xa, yaxis=ya, legend=leg,
                             legendgroup="g" + tag, showlegend=True))
    fig.add_trace(go.Scatter(x=xs(g_core), y=ys(g_core), mode="markers", name=series_names[0],
                             marker=ground_core_marker, xaxis=xa, yaxis=ya, legend=leg,
                             legendgroup="g" + tag, showlegend=False))
    fig.add_trace(go.Scatter(x=xs(s_spread), y=ys(s_spread), mode="markers", name=series_names[1],
                             marker=sat_marker, xaxis=xa, yaxis=ya, legend=leg,
                             legendgroup="s" + tag, showlegend=True))
    fig.add_trace(go.Scatter(x=xs(s_core), y=ys(s_core), mode="markers", name=series_names[1],
                             marker=sat_core_marker, xaxis=xa, yaxis=ya, legend=leg,
                             legendgroup="s" + tag, showlegend=False))

tick_font = dict(family="DejaVu Sans", size=40, color="black")
axis_common = dict(showline=True, linewidth=4, linecolor="black", mirror=False,
                   ticks="outside", ticklen=22, tickwidth=4, tickcolor="black",
                   showgrid=True, gridcolor=GRID_COLOR, gridwidth=2.7, zeroline=False,
                   layer="above traces", tickfont=tick_font, ticklabelstandoff=6)

ydom = [1 - 946 / H, 1 - 32.6 / H]
legend_font = dict(family="DejaVu Sans", size=42, color="black")
fig.update_layout(
    width=W, height=H, autosize=False,
    margin=dict(l=0, r=0, t=0, b=0, pad=0),
    paper_bgcolor="white", plot_bgcolor="white",
    xaxis=dict(axis_common, domain=[239 / W, 1522 / W], range=[-0.652, 0.736],
               tickmode="array", tickvals=x_ticks, ticktext=x_ticktext, anchor="y"),
    yaxis=dict(axis_common, domain=ydom, range=[-0.1538, 0.3217],
               tickmode="array", tickvals=ya_ticks, ticktext=ya_ticktext, anchor="x"),
    xaxis2=dict(axis_common, domain=[1907.5 / W, 3188.7 / W], range=[-0.6957, 0.7399],
                tickmode="array", tickvals=x_ticks, ticktext=x_ticktext, anchor="y2"),
    yaxis2=dict(axis_common, domain=ydom, range=[-0.401, 0.2153],
                tickmode="array", tickvals=yb_ticks, ticktext=yb_ticktext, anchor="x2"),
    legend=dict(x=236 / W, y=1 - 60 / H, xanchor="left", yanchor="top",
                bgcolor="rgba(0,0,0,0)", borderwidth=0, itemwidth=152,
                traceorder="grouped", tracegroupgap=8, font=legend_font),
    legend2=dict(x=2354 / W, y=1 - 789 / H, xanchor="left", yanchor="top",
                 bgcolor="rgba(0,0,0,0)", borderwidth=0, itemwidth=152,
                 traceorder="grouped", tracegroupgap=8, font=legend_font),
    showlegend=True,
)

title_font = dict(family="DejaVu Sans", size=45, color="black")
caption_font = dict(family="Liberation Serif", size=48, color="black")
annotations = [
    dict(text=x_title, x=880 / W, y=1 - 1079 / H, font=title_font),
    dict(text=x_title, x=2548 / W, y=1 - 1080 / H, font=title_font),
    dict(text=y_title, x=38 / W, y=1 - 489 / H, font=title_font, textangle=-90),
    dict(text=y_title, x=1705 / W, y=1 - 492 / H, font=title_font, textangle=-90),
    dict(text=panel_captions[0], x=880 / W, y=1 - 1235 / H, font=caption_font),
    dict(text=panel_captions[1], x=2549 / W, y=1 - 1233 / H, font=caption_font),
]
for a in annotations:
    a.update(xref="paper", yref="paper", showarrow=False, xanchor="center", yanchor="middle")
fig.update_layout(annotations=annotations)

fig.write_html("out.html")
